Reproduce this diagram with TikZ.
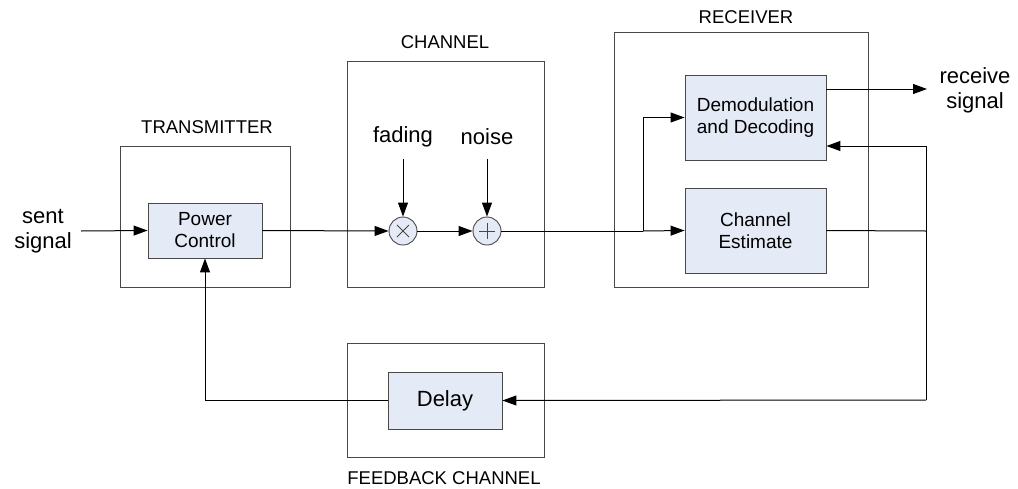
\documentclass[tikz,border=0pt]{standalone}
\usepackage{fontspec}
\setmainfont{Liberation Sans}
\usetikzlibrary{arrows.meta,calc}
\definecolor{boxfill}{RGB}{228,234,246}
\definecolor{frame}{RGB}{72,72,72}
\begin{document}
\begin{tikzpicture}[x=1pt,y=-1pt,
  group/.style={draw=frame,line width=0.9pt},
  block/.style={draw=frame,fill=boxfill,line width=0.9pt,align=center,font=\fontsize{19}{22}\selectfont},
  junction/.style={circle,draw=frame,fill=boxfill,line width=0.9pt,minimum size=28pt,inner sep=0pt},
  title/.style={anchor=base,font=\fontsize{18.5}{22}\selectfont},
  biglabel/.style={font=\fontsize{22}{25}\selectfont,align=center},
  wire/.style={draw=black,line width=1pt},
  arr/.style={wire,-{Triangle[length=14pt,width=10pt]}}]
\useasboundingbox (0,0) rectangle (1018,488);

% group frames
\draw[group] (120,146) rectangle (290,287);
\draw[group] (347,61) rectangle (544,287);
\draw[group] (614,32) rectangle (868,287);
\draw[group] (347,343) rectangle (544,457);

% group titles
\node[title] (ttx) at (207,133) {TRANSMITTER};
\node[title] (tch) at (445,48) {CHANNEL};
\node[title] (trx) at (746,23) {RECEIVER};
\node[title] (tfb) at (444,484) {FEEDBACK CHANNEL};

% blocks
\node[block,minimum width=114pt,minimum height=55pt] (pc) at (205,230.5) {Power\\Control};
\node[block,minimum width=141pt,minimum height=85pt] (dem) at (755.5,117.5) {Demodulation\\and Decoding};
\node[block,minimum width=141pt,minimum height=85pt] (est) at (755.5,230.5) {Channel\\Estimate};
\node[block,minimum width=114pt,minimum height=57pt,font=\fontsize{22}{25}\selectfont] (dly) at (445,400.5) {Delay};

% multiplier and adder
\node[junction] (mul) at (403,231) {};
\draw[frame,line width=0.8pt] ($(mul)+(-6,-6)$) -- ($(mul)+(6,6)$) ($(mul)+(-6,6)$) -- ($(mul)+(6,-6)$);
\node[junction] (add) at (487,231) {};
\draw[frame,line width=0.8pt] ($(add)+(-8,0)$) -- ($(add)+(8,0)$) ($(add)+(0,-8)$) -- ($(add)+(0,8)$);

% external labels
\node[biglabel] (sent) at (43,231) {sent\\signal};
\node[biglabel] (recv) at (975,90) {receive\\signal};
\node[biglabel] (fad) at (403,137) {fading};
\node[biglabel] (noi) at (487,137) {noise};

% route points
\coordinate (sin) at (81,231);
\coordinate (split) at (643,231);
\coordinate (rout) at (927,89);
\coordinate (fbx) at (926,231);
\coordinate (fbb) at (926,400);
\coordinate (fad0) at (403,159);
\coordinate (noi0) at (487,159);

% forward path
\draw[arr] (sin) -- (pc.west);
\draw[arr] (pc.east) -- (mul.west);
\draw[arr] (fad0) -- (mul.north);
\draw[arr] (noi0) -- (add.north);
\draw[arr] (mul.east) -- (add.west);
\draw[wire] (add.east) -- (split);
\draw[arr] (split) -- (est.west);
\draw[arr] (split) |- (dem.west);
\draw[arr] (dem.east |- rout) -- (rout);

% channel estimate feedback
\draw[wire] (est.east) -- (fbx);
\draw[arr] (fbx |- 0,146) -- (dem.east |- 0,146);
\draw[wire] (fbx |- 0,146) -- (fbb);
\draw[arr] (fbb) -- (dly.east);
\draw[arr] (dly.west) -| (pc.south);
\end{tikzpicture}
\end{document}
